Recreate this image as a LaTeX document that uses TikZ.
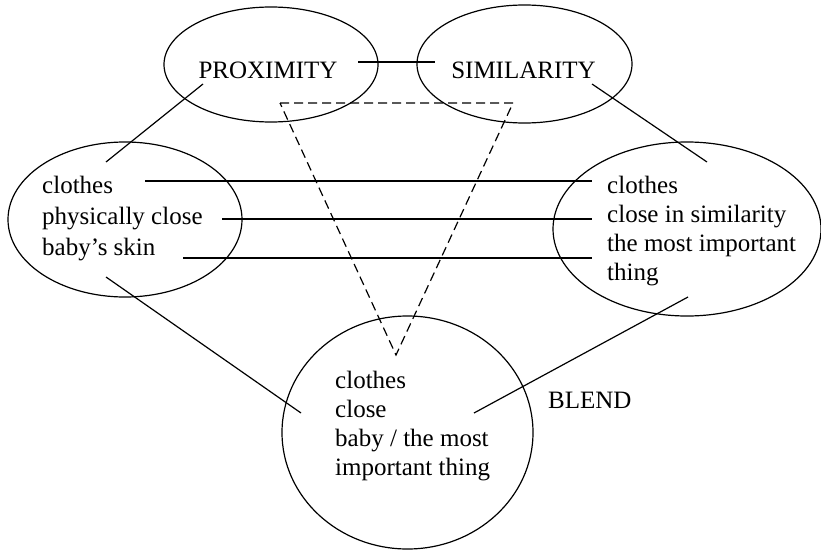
\documentclass[tikz,border=0pt]{standalone}
\usepackage{fontspec}
\setmainfont{Liberation Serif}
\usetikzlibrary{shapes.geometric}
\begin{document}
\begin{tikzpicture}[x=1pt,y=-1pt,
  oval/.style={draw,ellipse,line width=1.2pt,inner sep=0pt},
  lbl/.style={inner sep=0pt,align=left,font=\fontsize{25}{29}\selectfont},
  link/.style={line width=1.2pt},
  guide/.style={line width=1.2pt,dash pattern=on 9pt off 5pt}]
\useasboundingbox (0,0) rectangle (821,551);
% ellipses
\node[oval,minimum width=214pt,minimum height=115pt] (prox) at (271,64.5) {};
\node[oval,minimum width=215pt,minimum height=118pt] (sim) at (524.5,64) {};
\node[oval,minimum width=234pt,minimum height=155pt] (left) at (125,219.5) {};
\node[oval,minimum width=268pt,minimum height=174pt] (right) at (687,229) {};
\node[oval,minimum width=251pt,minimum height=233pt] (blend) at (407.5,432.5) {};
% texts (base anchor = baseline of the last line)
\node[lbl,anchor=base] (tprox) at (268,78) {PROXIMITY};
\node[lbl,anchor=base] (tsim) at (523.5,78) {SIMILARITY};
\node[lbl,anchor=base west,font=\fontsize{25}{31}\selectfont] (tleft) at (42,255) {clothes\\physically close\\baby’s skin};
\node[lbl,anchor=base west] (tright) at (607,280) {clothes\\close in similarity\\the most important\\thing};
\node[lbl,anchor=base west] (tblend) at (335,475) {clothes\\close\\baby / the most\\important thing};
\node[lbl,anchor=base west] (tb) at (548,408) {BLEND};
% connector end points
\coordinate (ps1) at (358,62);
\coordinate (ps2) at (435,62);
\coordinate (pl1) at (203,84);
\coordinate (pl2) at (106,162);
\coordinate (sr1) at (592,84);
\coordinate (sr2) at (707,162);
\coordinate (h1a) at (145,181);
\coordinate (h1b) at (592,181);
\coordinate (h2a) at (222,219);
\coordinate (h2b) at (592,219);
\coordinate (h3a) at (183,258);
\coordinate (h3b) at (592,258);
\coordinate (lb1) at (106,277);
\coordinate (lb2) at (301,413);
\coordinate (rb1) at (688,297);
\coordinate (rb2) at (474,413);
\coordinate (t1) at (280,103);
\coordinate (t2) at (513,103);
\coordinate (t3) at (396,355);
% connectors
\draw[link] (ps1) -- (ps2);
\draw[link] (pl1) -- (pl2);
\draw[link] (sr1) -- (sr2);
\draw[link] (h1a) -- (h1b);
\draw[link] (h2a) -- (h2b);
\draw[link] (h3a) -- (h3b);
\draw[link] (lb1) -- (lb2);
\draw[link] (rb1) -- (rb2);
\draw[guide] (t1) -- (t2) -- (t3) -- cycle;
\end{tikzpicture}
\end{document}
